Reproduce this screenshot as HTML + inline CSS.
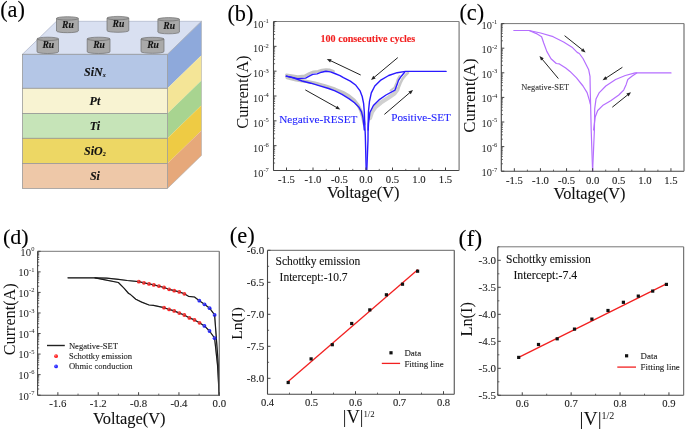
<!DOCTYPE html>
<html><head><meta charset="utf-8"><style>
html,body{margin:0;padding:0;background:#fff;}
svg{display:block;font-family:"Liberation Serif", serif;will-change:transform;}
</style></head><body>
<svg width="685" height="430" viewBox="0 0 685 430">
<rect width="685" height="430" fill="#fff"/>
<polygon points="22.40,54.30 56.40,21.30 201.50,21.30 167.50,54.30" fill="#D9E0F1" stroke="#A0A8C0" stroke-width="0.6" />
<polygon points="167.50,54.30 201.50,21.30 201.50,55.30 167.50,88.30" fill="#8EA9DB" stroke="none" stroke-width="1" />
<polygon points="167.50,88.30 201.50,55.30 201.50,80.50 167.50,113.50" fill="#F4E597" stroke="none" stroke-width="1" />
<polygon points="167.50,113.50 201.50,80.50 201.50,105.30 167.50,138.30" fill="#A8D490" stroke="none" stroke-width="1" />
<polygon points="167.50,138.30 201.50,105.30 201.50,130.40 167.50,163.40" fill="#EECB44" stroke="none" stroke-width="1" />
<polygon points="167.50,163.40 201.50,130.40 201.50,155.40 167.50,188.40" fill="#E6A87A" stroke="none" stroke-width="1" />
<rect x="22.4" y="54.3" width="145.1" height="34.0" fill="#B4C6E6" stroke="#959595" stroke-width="0.75"/>
<text x="94.95" y="75.50" font-size="12" text-anchor="middle" fill="#111" font-weight="bold" font-style="italic" stroke="#111" stroke-width="0.1" >SiN<tspan font-size="6" dy="1">x</tspan></text>
<rect x="22.4" y="88.3" width="145.1" height="25.200000000000003" fill="#F8F3D2" stroke="#959595" stroke-width="0.75"/>
<text x="94.95" y="105.10" font-size="12" text-anchor="middle" fill="#111" font-weight="bold" font-style="italic" stroke="#111" stroke-width="0.1" >Pt</text>
<rect x="22.4" y="113.5" width="145.1" height="24.80000000000001" fill="#C6E4B8" stroke="#959595" stroke-width="0.75"/>
<text x="94.95" y="130.10" font-size="12" text-anchor="middle" fill="#111" font-weight="bold" font-style="italic" stroke="#111" stroke-width="0.1" >Ti</text>
<rect x="22.4" y="138.3" width="145.1" height="25.099999999999994" fill="#EDD764" stroke="#959595" stroke-width="0.75"/>
<text x="94.95" y="155.05" font-size="12" text-anchor="middle" fill="#111" font-weight="bold" font-style="italic" stroke="#111" stroke-width="0.1" >SiO<tspan font-size="6" dy="1">2</tspan></text>
<rect x="22.4" y="163.4" width="145.1" height="25.0" fill="#EEC8A8" stroke="#959595" stroke-width="0.75"/>
<text x="94.95" y="180.10" font-size="12" text-anchor="middle" fill="#111" font-weight="bold" font-style="italic" stroke="#111" stroke-width="0.1" >Si</text>
<polyline points="167.50,54.30 201.50,21.30 201.50,155.40 167.50,188.40" fill="none" stroke="#B0B0B0" stroke-width="0.6" stroke-linejoin="round" stroke-linecap="round" />
<path d="M56.50,18.40 L56.50,31.00 A10.90,1.7 0 0 0 78.30,31.00 L78.30,18.40 Z" fill="#A9A9A9" stroke="#6F6F6F" stroke-width="0.7"/>
<ellipse cx="67.40" cy="18.40" rx="10.90" ry="1.7" fill="#A3A3A3" stroke="#6F6F6F" stroke-width="0.7"/>
<text x="67.90" y="27.60" font-size="9.6" text-anchor="middle" fill="#111" font-weight="bold" font-style="italic" stroke="#111" stroke-width="0.1" >Ru</text>
<path d="M107.00,18.10 L107.00,30.60 A10.90,1.7 0 0 0 128.80,30.60 L128.80,18.10 Z" fill="#A9A9A9" stroke="#6F6F6F" stroke-width="0.7"/>
<ellipse cx="117.90" cy="18.10" rx="10.90" ry="1.7" fill="#A3A3A3" stroke="#6F6F6F" stroke-width="0.7"/>
<text x="118.40" y="27.20" font-size="9.6" text-anchor="middle" fill="#111" font-weight="bold" font-style="italic" stroke="#111" stroke-width="0.1" >Ru</text>
<path d="M157.90,19.30 L157.90,32.10 A10.75,1.7 0 0 0 179.40,32.10 L179.40,19.30 Z" fill="#A9A9A9" stroke="#6F6F6F" stroke-width="0.7"/>
<ellipse cx="168.65" cy="19.30" rx="10.75" ry="1.7" fill="#A3A3A3" stroke="#6F6F6F" stroke-width="0.7"/>
<text x="169.15" y="28.70" font-size="9.6" text-anchor="middle" fill="#111" font-weight="bold" font-style="italic" stroke="#111" stroke-width="0.1" >Ru</text>
<path d="M37.00,38.90 L37.00,51.80 A10.75,1.7 0 0 0 58.50,51.80 L58.50,38.90 Z" fill="#A9A9A9" stroke="#6F6F6F" stroke-width="0.7"/>
<ellipse cx="47.75" cy="38.90" rx="10.75" ry="1.7" fill="#A3A3A3" stroke="#6F6F6F" stroke-width="0.7"/>
<text x="48.25" y="48.40" font-size="9.6" text-anchor="middle" fill="#111" font-weight="bold" font-style="italic" stroke="#111" stroke-width="0.1" >Ru</text>
<path d="M87.20,38.90 L87.20,51.80 A11.40,1.7 0 0 0 110.00,51.80 L110.00,38.90 Z" fill="#A9A9A9" stroke="#6F6F6F" stroke-width="0.7"/>
<ellipse cx="98.60" cy="38.90" rx="11.40" ry="1.7" fill="#A3A3A3" stroke="#6F6F6F" stroke-width="0.7"/>
<text x="99.10" y="48.40" font-size="9.6" text-anchor="middle" fill="#111" font-weight="bold" font-style="italic" stroke="#111" stroke-width="0.1" >Ru</text>
<path d="M141.00,39.00 L141.00,51.60 A11.50,1.7 0 0 0 164.00,51.60 L164.00,39.00 Z" fill="#A9A9A9" stroke="#6F6F6F" stroke-width="0.7"/>
<ellipse cx="152.50" cy="39.00" rx="11.50" ry="1.7" fill="#A3A3A3" stroke="#6F6F6F" stroke-width="0.7"/>
<text x="153.00" y="48.20" font-size="9.6" text-anchor="middle" fill="#111" font-weight="bold" font-style="italic" stroke="#111" stroke-width="0.1" >Ru</text>
<text x="0.20" y="16.70" font-size="22.3" text-anchor="start" fill="#000" font-weight="normal" font-style="normal" stroke="#000" stroke-width="0.1" >(a)</text>
<text x="227.40" y="20.70" font-size="22.3" text-anchor="start" fill="#000" font-weight="normal" font-style="normal" stroke="#000" stroke-width="0.1" >(b)</text>
<text x="459.40" y="20.00" font-size="22.3" text-anchor="start" fill="#000" font-weight="normal" font-style="normal" stroke="#000" stroke-width="0.1" >(c)</text>
<text x="3.00" y="243.50" font-size="22.0" text-anchor="start" fill="#000" font-weight="normal" font-style="normal" stroke="#000" stroke-width="0.1" >(d)</text>
<text x="229.80" y="242.70" font-size="22.5" text-anchor="start" fill="#000" font-weight="normal" font-style="normal" stroke="#000" stroke-width="0.1" >(e)</text>
<text x="458.50" y="245.90" font-size="23.8" text-anchor="start" fill="#000" font-weight="normal" font-style="normal" stroke="#000" stroke-width="0.1" >(f)</text>
<polyline points="286.50,74.80 291.50,75.60 297.70,76.60 304.60,76.00 309.20,73.60 313.50,71.80 318.00,71.40 322.00,70.20 326.00,69.60 330.00,70.00 333.50,71.20" fill="none" stroke="#C4C4C4" stroke-width="2.8" stroke-linejoin="round" stroke-linecap="round" />
<polyline points="287.00,77.50 296.00,79.80 305.00,81.20 315.00,83.20 325.00,85.80 335.00,89.20 343.00,92.50 349.00,96.00 354.00,100.00 358.00,105.00 361.00,111.00 363.00,118.00 364.20,124.00" fill="none" stroke="#C4C4C4" stroke-width="3.4" stroke-linejoin="round" stroke-linecap="round" />
<polyline points="370.00,118.00 372.00,112.00 375.50,107.00 381.00,102.50 388.00,98.00 394.50,93.50 397.50,89.50" fill="none" stroke="#D0D0D0" stroke-width="4.2" stroke-linejoin="round" stroke-linecap="round" />
<polyline points="390.50,90.50 394.50,87.50 396.20,83.50 397.60,79.50 399.50,76.00" fill="none" stroke="#C8C8C8" stroke-width="2.0" stroke-linejoin="round" stroke-linecap="round" />
<polyline points="398.50,88.00 400.50,83.00 402.50,79.00 405.50,75.20 408.00,72.80" fill="none" stroke="#C8C8C8" stroke-width="2.6" stroke-linejoin="round" stroke-linecap="round" />
<polyline points="286.20,76.10 291.50,77.20 297.70,78.60 305.60,78.10 309.20,76.10 312.70,74.40 317.10,73.90 321.50,72.20 325.90,71.30 330.40,71.90 334.80,73.50 340.00,75.70 343.40,77.70 350.30,81.10 355.90,85.30 360.10,90.90 362.20,96.50 363.60,103.40 364.30,111.80 364.60,120.20 365.30,135.00 366.20,170.30" fill="none" stroke="#2A1AFF" stroke-width="1.4" stroke-linejoin="round" stroke-linecap="round" />
<polyline points="286.20,76.10 293.30,77.90 302.10,81.00 310.90,83.20 319.80,85.90 328.60,88.50 335.00,90.90 342.00,94.40 348.90,98.60 354.50,102.80 358.70,106.90 361.50,111.80 362.90,117.40 363.60,123.00 364.30,130.00" fill="none" stroke="#2A1AFF" stroke-width="1.4" stroke-linejoin="round" stroke-linecap="round" />
<polyline points="366.80,170.30 368.00,140.00 368.10,125.00 368.50,111.10 369.50,101.30 371.30,92.90 374.80,86.00 380.40,80.40 388.70,75.50 397.10,72.70 405.50,71.40 446.10,71.40" fill="none" stroke="#2A1AFF" stroke-width="1.4" stroke-linejoin="round" stroke-linecap="round" />
<polyline points="368.20,130.00 368.50,123.70 369.90,112.50 373.40,105.50 379.00,99.90 386.00,95.00 395.00,90.10 397.10,84.60 398.50,80.40 401.30,76.20 404.80,72.00" fill="none" stroke="#2A1AFF" stroke-width="1.4" stroke-linejoin="round" stroke-linecap="round" />
<line x1="273.50" y1="170.50" x2="459.10" y2="170.50" stroke="#444" stroke-width="1.1" />
<line x1="273.50" y1="21.50" x2="273.50" y2="170.50" stroke="#444" stroke-width="1.1" />
<line x1="273.50" y1="21.50" x2="459.10" y2="21.50" stroke="#808080" stroke-width="1.0" />
<line x1="459.10" y1="21.50" x2="459.10" y2="170.50" stroke="#808080" stroke-width="1.25" />
<line x1="273.50" y1="170.50" x2="276.50" y2="170.50" stroke="#444" stroke-width="1" />
<text x="268.80" y="176.50" font-size="10.4" text-anchor="end" fill="#222">10<tspan font-size="6.5" dy="-4.6">-7</tspan></text>
<line x1="273.50" y1="163.02" x2="275.10" y2="163.02" stroke="#444" stroke-width="0.8" />
<line x1="273.50" y1="158.65" x2="275.10" y2="158.65" stroke="#444" stroke-width="0.8" />
<line x1="273.50" y1="155.55" x2="275.10" y2="155.55" stroke="#444" stroke-width="0.8" />
<line x1="273.50" y1="153.14" x2="275.10" y2="153.14" stroke="#444" stroke-width="0.8" />
<line x1="273.50" y1="151.18" x2="275.10" y2="151.18" stroke="#444" stroke-width="0.8" />
<line x1="273.50" y1="149.51" x2="275.10" y2="149.51" stroke="#444" stroke-width="0.8" />
<line x1="273.50" y1="148.07" x2="275.10" y2="148.07" stroke="#444" stroke-width="0.8" />
<line x1="273.50" y1="146.80" x2="275.10" y2="146.80" stroke="#444" stroke-width="0.8" />
<line x1="273.50" y1="145.67" x2="276.50" y2="145.67" stroke="#444" stroke-width="1" />
<text x="268.80" y="151.67" font-size="10.4" text-anchor="end" fill="#222">10<tspan font-size="6.5" dy="-4.6">-6</tspan></text>
<line x1="273.50" y1="138.19" x2="275.10" y2="138.19" stroke="#444" stroke-width="0.8" />
<line x1="273.50" y1="133.82" x2="275.10" y2="133.82" stroke="#444" stroke-width="0.8" />
<line x1="273.50" y1="130.72" x2="275.10" y2="130.72" stroke="#444" stroke-width="0.8" />
<line x1="273.50" y1="128.31" x2="275.10" y2="128.31" stroke="#444" stroke-width="0.8" />
<line x1="273.50" y1="126.34" x2="275.10" y2="126.34" stroke="#444" stroke-width="0.8" />
<line x1="273.50" y1="124.68" x2="275.10" y2="124.68" stroke="#444" stroke-width="0.8" />
<line x1="273.50" y1="123.24" x2="275.10" y2="123.24" stroke="#444" stroke-width="0.8" />
<line x1="273.50" y1="121.97" x2="275.10" y2="121.97" stroke="#444" stroke-width="0.8" />
<line x1="273.50" y1="120.83" x2="276.50" y2="120.83" stroke="#444" stroke-width="1" />
<text x="268.80" y="126.83" font-size="10.4" text-anchor="end" fill="#222">10<tspan font-size="6.5" dy="-4.6">-5</tspan></text>
<line x1="273.50" y1="113.36" x2="275.10" y2="113.36" stroke="#444" stroke-width="0.8" />
<line x1="273.50" y1="108.98" x2="275.10" y2="108.98" stroke="#444" stroke-width="0.8" />
<line x1="273.50" y1="105.88" x2="275.10" y2="105.88" stroke="#444" stroke-width="0.8" />
<line x1="273.50" y1="103.48" x2="275.10" y2="103.48" stroke="#444" stroke-width="0.8" />
<line x1="273.50" y1="101.51" x2="275.10" y2="101.51" stroke="#444" stroke-width="0.8" />
<line x1="273.50" y1="99.85" x2="275.10" y2="99.85" stroke="#444" stroke-width="0.8" />
<line x1="273.50" y1="98.41" x2="275.10" y2="98.41" stroke="#444" stroke-width="0.8" />
<line x1="273.50" y1="97.14" x2="275.10" y2="97.14" stroke="#444" stroke-width="0.8" />
<line x1="273.50" y1="96.00" x2="276.50" y2="96.00" stroke="#444" stroke-width="1" />
<text x="268.80" y="102.00" font-size="10.4" text-anchor="end" fill="#222">10<tspan font-size="6.5" dy="-4.6">-4</tspan></text>
<line x1="273.50" y1="88.52" x2="275.10" y2="88.52" stroke="#444" stroke-width="0.8" />
<line x1="273.50" y1="84.15" x2="275.10" y2="84.15" stroke="#444" stroke-width="0.8" />
<line x1="273.50" y1="81.05" x2="275.10" y2="81.05" stroke="#444" stroke-width="0.8" />
<line x1="273.50" y1="78.64" x2="275.10" y2="78.64" stroke="#444" stroke-width="0.8" />
<line x1="273.50" y1="76.68" x2="275.10" y2="76.68" stroke="#444" stroke-width="0.8" />
<line x1="273.50" y1="75.01" x2="275.10" y2="75.01" stroke="#444" stroke-width="0.8" />
<line x1="273.50" y1="73.57" x2="275.10" y2="73.57" stroke="#444" stroke-width="0.8" />
<line x1="273.50" y1="72.30" x2="275.10" y2="72.30" stroke="#444" stroke-width="0.8" />
<line x1="273.50" y1="71.17" x2="276.50" y2="71.17" stroke="#444" stroke-width="1" />
<text x="268.80" y="77.17" font-size="10.4" text-anchor="end" fill="#222">10<tspan font-size="6.5" dy="-4.6">-3</tspan></text>
<line x1="273.50" y1="63.69" x2="275.10" y2="63.69" stroke="#444" stroke-width="0.8" />
<line x1="273.50" y1="59.32" x2="275.10" y2="59.32" stroke="#444" stroke-width="0.8" />
<line x1="273.50" y1="56.22" x2="275.10" y2="56.22" stroke="#444" stroke-width="0.8" />
<line x1="273.50" y1="53.81" x2="275.10" y2="53.81" stroke="#444" stroke-width="0.8" />
<line x1="273.50" y1="51.84" x2="275.10" y2="51.84" stroke="#444" stroke-width="0.8" />
<line x1="273.50" y1="50.18" x2="275.10" y2="50.18" stroke="#444" stroke-width="0.8" />
<line x1="273.50" y1="48.74" x2="275.10" y2="48.74" stroke="#444" stroke-width="0.8" />
<line x1="273.50" y1="47.47" x2="275.10" y2="47.47" stroke="#444" stroke-width="0.8" />
<line x1="273.50" y1="46.33" x2="276.50" y2="46.33" stroke="#444" stroke-width="1" />
<text x="268.80" y="52.33" font-size="10.4" text-anchor="end" fill="#222">10<tspan font-size="6.5" dy="-4.6">-2</tspan></text>
<line x1="273.50" y1="38.86" x2="275.10" y2="38.86" stroke="#444" stroke-width="0.8" />
<line x1="273.50" y1="34.48" x2="275.10" y2="34.48" stroke="#444" stroke-width="0.8" />
<line x1="273.50" y1="31.38" x2="275.10" y2="31.38" stroke="#444" stroke-width="0.8" />
<line x1="273.50" y1="28.98" x2="275.10" y2="28.98" stroke="#444" stroke-width="0.8" />
<line x1="273.50" y1="27.01" x2="275.10" y2="27.01" stroke="#444" stroke-width="0.8" />
<line x1="273.50" y1="25.35" x2="275.10" y2="25.35" stroke="#444" stroke-width="0.8" />
<line x1="273.50" y1="23.91" x2="275.10" y2="23.91" stroke="#444" stroke-width="0.8" />
<line x1="273.50" y1="22.64" x2="275.10" y2="22.64" stroke="#444" stroke-width="0.8" />
<line x1="273.50" y1="21.50" x2="276.50" y2="21.50" stroke="#444" stroke-width="1" />
<text x="268.80" y="27.50" font-size="10.4" text-anchor="end" fill="#222">10<tspan font-size="6.5" dy="-4.6">-1</tspan></text>
<line x1="286.50" y1="170.50" x2="286.50" y2="167.50" stroke="#444" stroke-width="1" />
<text x="286.50" y="182.80" font-size="10.7" text-anchor="middle" fill="#222" font-weight="normal" font-style="normal" stroke="#222" stroke-width="0.1" >-1.5</text>
<line x1="313.00" y1="170.50" x2="313.00" y2="167.50" stroke="#444" stroke-width="1" />
<text x="313.00" y="182.80" font-size="10.7" text-anchor="middle" fill="#222" font-weight="normal" font-style="normal" stroke="#222" stroke-width="0.1" >-1.0</text>
<line x1="339.50" y1="170.50" x2="339.50" y2="167.50" stroke="#444" stroke-width="1" />
<text x="339.50" y="182.80" font-size="10.7" text-anchor="middle" fill="#222" font-weight="normal" font-style="normal" stroke="#222" stroke-width="0.1" >-0.5</text>
<line x1="366.00" y1="170.50" x2="366.00" y2="167.50" stroke="#444" stroke-width="1" />
<text x="366.00" y="182.80" font-size="10.7" text-anchor="middle" fill="#222" font-weight="normal" font-style="normal" stroke="#222" stroke-width="0.1" >0.0</text>
<line x1="392.50" y1="170.50" x2="392.50" y2="167.50" stroke="#444" stroke-width="1" />
<text x="392.50" y="182.80" font-size="10.7" text-anchor="middle" fill="#222" font-weight="normal" font-style="normal" stroke="#222" stroke-width="0.1" >0.5</text>
<line x1="419.00" y1="170.50" x2="419.00" y2="167.50" stroke="#444" stroke-width="1" />
<text x="419.00" y="182.80" font-size="10.7" text-anchor="middle" fill="#222" font-weight="normal" font-style="normal" stroke="#222" stroke-width="0.1" >1.0</text>
<line x1="445.50" y1="170.50" x2="445.50" y2="167.50" stroke="#444" stroke-width="1" />
<text x="445.50" y="182.80" font-size="10.7" text-anchor="middle" fill="#222" font-weight="normal" font-style="normal" stroke="#222" stroke-width="0.1" >1.5</text>
<line x1="299.75" y1="170.50" x2="299.75" y2="168.90" stroke="#444" stroke-width="0.8" />
<line x1="326.25" y1="170.50" x2="326.25" y2="168.90" stroke="#444" stroke-width="0.8" />
<line x1="352.75" y1="170.50" x2="352.75" y2="168.90" stroke="#444" stroke-width="0.8" />
<line x1="379.25" y1="170.50" x2="379.25" y2="168.90" stroke="#444" stroke-width="0.8" />
<line x1="405.75" y1="170.50" x2="405.75" y2="168.90" stroke="#444" stroke-width="0.8" />
<line x1="432.25" y1="170.50" x2="432.25" y2="168.90" stroke="#444" stroke-width="0.8" />
<text x="363.30" y="198.30" font-size="16.4" text-anchor="middle" fill="#111" font-weight="normal" font-style="normal" stroke="#111" stroke-width="0.1" >Voltage(V)</text>
<text transform="translate(248.4,92.1) rotate(-90)" font-size="16.5" text-anchor="middle" fill="#111">Current(A)</text>
<text x="367.90" y="41.80" font-size="10.1" text-anchor="middle" fill="#F21F1F" font-weight="bold" font-style="normal" stroke="#F21F1F" stroke-width="0.1" >100 consecutive cycles</text>
<text x="318.30" y="122.70" font-size="11.2" text-anchor="middle" fill="#2424FF" font-weight="normal" font-style="normal" stroke="#2424FF" stroke-width="0.1" >Negative-RESET</text>
<text x="421.10" y="120.80" font-size="11.2" text-anchor="middle" fill="#2424FF" font-weight="normal" font-style="normal" stroke="#2424FF" stroke-width="0.1" >Positive-SET</text>
<line x1="360.70" y1="75.00" x2="330.41" y2="60.62" stroke="#222" stroke-width="1.0" />
<polygon points="326.80,58.90 331.64,59.20 330.09,62.46" fill="#222" stroke="none" stroke-width="1" />
<line x1="305.30" y1="89.90" x2="336.81" y2="107.55" stroke="#222" stroke-width="1.0" />
<polygon points="340.30,109.50 335.49,108.87 337.25,105.73" fill="#222" stroke="none" stroke-width="1" />
<line x1="397.80" y1="57.60" x2="374.07" y2="77.43" stroke="#222" stroke-width="1.0" />
<polygon points="371.00,80.00 373.30,75.73 375.61,78.50" fill="#222" stroke="none" stroke-width="1" />
<line x1="384.40" y1="114.40" x2="409.96" y2="92.50" stroke="#222" stroke-width="1.0" />
<polygon points="413.00,89.90 410.75,94.19 408.41,91.46" fill="#222" stroke="none" stroke-width="1" />
<polyline points="513.80,30.50 529.10,30.50 540.60,33.00 553.10,36.70 563.60,42.00 572.00,47.20 577.20,52.40 579.30,53.50 583.00,58.50 586.30,64.90 588.70,69.80 590.00,76.30 590.30,92.60 590.70,108.80 591.20,130.00 592.60,171.00" fill="none" stroke="#B56EFF" stroke-width="1.2" stroke-linejoin="round" stroke-linecap="round" />
<polyline points="529.10,30.50 536.40,33.60 541.60,36.70 543.70,43.00 546.80,51.40 551.00,58.70 556.30,63.50 559.40,63.90 565.70,68.10 570.00,71.40 576.50,77.90 583.00,86.00 587.10,92.60 589.50,100.70 590.30,104.00" fill="none" stroke="#B56EFF" stroke-width="1.2" stroke-linejoin="round" stroke-linecap="round" />
<polyline points="592.60,171.00 594.40,130.00 594.70,108.80 596.00,99.10 599.30,92.60 605.80,86.00 615.60,79.50 625.30,75.50 635.10,72.90 671.00,72.90" fill="none" stroke="#B56EFF" stroke-width="1.2" stroke-linejoin="round" stroke-linecap="round" />
<polyline points="593.60,130.00 595.20,117.00 597.70,110.50 602.60,105.60 610.70,100.70 618.80,95.00 623.70,90.10 626.20,84.40 627.80,79.50 631.90,76.30 636.70,73.00" fill="none" stroke="#B56EFF" stroke-width="1.2" stroke-linejoin="round" stroke-linecap="round" />
<line x1="501.30" y1="171.20" x2="684.00" y2="171.20" stroke="#444" stroke-width="1.1" />
<line x1="501.30" y1="23.60" x2="501.30" y2="171.20" stroke="#444" stroke-width="1.1" />
<line x1="501.30" y1="23.60" x2="684.00" y2="23.60" stroke="#777" stroke-width="1.0" />
<line x1="684.00" y1="23.60" x2="684.00" y2="171.20" stroke="#777" stroke-width="1.25" />
<line x1="501.30" y1="171.20" x2="504.30" y2="171.20" stroke="#444" stroke-width="1" />
<text x="497.30" y="176.20" font-size="10.4" text-anchor="end" fill="#222">10<tspan font-size="6.5" dy="-4.6">-7</tspan></text>
<line x1="501.30" y1="163.79" x2="502.90" y2="163.79" stroke="#444" stroke-width="0.8" />
<line x1="501.30" y1="159.46" x2="502.90" y2="159.46" stroke="#444" stroke-width="0.8" />
<line x1="501.30" y1="156.39" x2="502.90" y2="156.39" stroke="#444" stroke-width="0.8" />
<line x1="501.30" y1="154.01" x2="502.90" y2="154.01" stroke="#444" stroke-width="0.8" />
<line x1="501.30" y1="152.06" x2="502.90" y2="152.06" stroke="#444" stroke-width="0.8" />
<line x1="501.30" y1="150.41" x2="502.90" y2="150.41" stroke="#444" stroke-width="0.8" />
<line x1="501.30" y1="148.98" x2="502.90" y2="148.98" stroke="#444" stroke-width="0.8" />
<line x1="501.30" y1="147.73" x2="502.90" y2="147.73" stroke="#444" stroke-width="0.8" />
<line x1="501.30" y1="146.60" x2="504.30" y2="146.60" stroke="#444" stroke-width="1" />
<text x="497.30" y="151.60" font-size="10.4" text-anchor="end" fill="#222">10<tspan font-size="6.5" dy="-4.6">-6</tspan></text>
<line x1="501.30" y1="139.19" x2="502.90" y2="139.19" stroke="#444" stroke-width="0.8" />
<line x1="501.30" y1="134.86" x2="502.90" y2="134.86" stroke="#444" stroke-width="0.8" />
<line x1="501.30" y1="131.79" x2="502.90" y2="131.79" stroke="#444" stroke-width="0.8" />
<line x1="501.30" y1="129.41" x2="502.90" y2="129.41" stroke="#444" stroke-width="0.8" />
<line x1="501.30" y1="127.46" x2="502.90" y2="127.46" stroke="#444" stroke-width="0.8" />
<line x1="501.30" y1="125.81" x2="502.90" y2="125.81" stroke="#444" stroke-width="0.8" />
<line x1="501.30" y1="124.38" x2="502.90" y2="124.38" stroke="#444" stroke-width="0.8" />
<line x1="501.30" y1="123.13" x2="502.90" y2="123.13" stroke="#444" stroke-width="0.8" />
<line x1="501.30" y1="122.00" x2="504.30" y2="122.00" stroke="#444" stroke-width="1" />
<text x="497.30" y="127.00" font-size="10.4" text-anchor="end" fill="#222">10<tspan font-size="6.5" dy="-4.6">-5</tspan></text>
<line x1="501.30" y1="114.59" x2="502.90" y2="114.59" stroke="#444" stroke-width="0.8" />
<line x1="501.30" y1="110.26" x2="502.90" y2="110.26" stroke="#444" stroke-width="0.8" />
<line x1="501.30" y1="107.19" x2="502.90" y2="107.19" stroke="#444" stroke-width="0.8" />
<line x1="501.30" y1="104.81" x2="502.90" y2="104.81" stroke="#444" stroke-width="0.8" />
<line x1="501.30" y1="102.86" x2="502.90" y2="102.86" stroke="#444" stroke-width="0.8" />
<line x1="501.30" y1="101.21" x2="502.90" y2="101.21" stroke="#444" stroke-width="0.8" />
<line x1="501.30" y1="99.78" x2="502.90" y2="99.78" stroke="#444" stroke-width="0.8" />
<line x1="501.30" y1="98.53" x2="502.90" y2="98.53" stroke="#444" stroke-width="0.8" />
<line x1="501.30" y1="97.40" x2="504.30" y2="97.40" stroke="#444" stroke-width="1" />
<text x="497.30" y="102.40" font-size="10.4" text-anchor="end" fill="#222">10<tspan font-size="6.5" dy="-4.6">-4</tspan></text>
<line x1="501.30" y1="89.99" x2="502.90" y2="89.99" stroke="#444" stroke-width="0.8" />
<line x1="501.30" y1="85.66" x2="502.90" y2="85.66" stroke="#444" stroke-width="0.8" />
<line x1="501.30" y1="82.59" x2="502.90" y2="82.59" stroke="#444" stroke-width="0.8" />
<line x1="501.30" y1="80.21" x2="502.90" y2="80.21" stroke="#444" stroke-width="0.8" />
<line x1="501.30" y1="78.26" x2="502.90" y2="78.26" stroke="#444" stroke-width="0.8" />
<line x1="501.30" y1="76.61" x2="502.90" y2="76.61" stroke="#444" stroke-width="0.8" />
<line x1="501.30" y1="75.18" x2="502.90" y2="75.18" stroke="#444" stroke-width="0.8" />
<line x1="501.30" y1="73.93" x2="502.90" y2="73.93" stroke="#444" stroke-width="0.8" />
<line x1="501.30" y1="72.80" x2="504.30" y2="72.80" stroke="#444" stroke-width="1" />
<text x="497.30" y="77.80" font-size="10.4" text-anchor="end" fill="#222">10<tspan font-size="6.5" dy="-4.6">-3</tspan></text>
<line x1="501.30" y1="65.39" x2="502.90" y2="65.39" stroke="#444" stroke-width="0.8" />
<line x1="501.30" y1="61.06" x2="502.90" y2="61.06" stroke="#444" stroke-width="0.8" />
<line x1="501.30" y1="57.99" x2="502.90" y2="57.99" stroke="#444" stroke-width="0.8" />
<line x1="501.30" y1="55.61" x2="502.90" y2="55.61" stroke="#444" stroke-width="0.8" />
<line x1="501.30" y1="53.66" x2="502.90" y2="53.66" stroke="#444" stroke-width="0.8" />
<line x1="501.30" y1="52.01" x2="502.90" y2="52.01" stroke="#444" stroke-width="0.8" />
<line x1="501.30" y1="50.58" x2="502.90" y2="50.58" stroke="#444" stroke-width="0.8" />
<line x1="501.30" y1="49.33" x2="502.90" y2="49.33" stroke="#444" stroke-width="0.8" />
<line x1="501.30" y1="48.20" x2="504.30" y2="48.20" stroke="#444" stroke-width="1" />
<text x="497.30" y="53.20" font-size="10.4" text-anchor="end" fill="#222">10<tspan font-size="6.5" dy="-4.6">-2</tspan></text>
<line x1="501.30" y1="40.79" x2="502.90" y2="40.79" stroke="#444" stroke-width="0.8" />
<line x1="501.30" y1="36.46" x2="502.90" y2="36.46" stroke="#444" stroke-width="0.8" />
<line x1="501.30" y1="33.39" x2="502.90" y2="33.39" stroke="#444" stroke-width="0.8" />
<line x1="501.30" y1="31.01" x2="502.90" y2="31.01" stroke="#444" stroke-width="0.8" />
<line x1="501.30" y1="29.06" x2="502.90" y2="29.06" stroke="#444" stroke-width="0.8" />
<line x1="501.30" y1="27.41" x2="502.90" y2="27.41" stroke="#444" stroke-width="0.8" />
<line x1="501.30" y1="25.98" x2="502.90" y2="25.98" stroke="#444" stroke-width="0.8" />
<line x1="501.30" y1="24.73" x2="502.90" y2="24.73" stroke="#444" stroke-width="0.8" />
<line x1="501.30" y1="23.60" x2="504.30" y2="23.60" stroke="#444" stroke-width="1" />
<text x="497.30" y="28.60" font-size="10.4" text-anchor="end" fill="#222">10<tspan font-size="6.5" dy="-4.6">-1</tspan></text>
<line x1="514.35" y1="171.20" x2="514.35" y2="168.20" stroke="#444" stroke-width="1" />
<text x="514.35" y="183.50" font-size="10.7" text-anchor="middle" fill="#222" font-weight="normal" font-style="normal" stroke="#222" stroke-width="0.1" >-1.5</text>
<line x1="540.45" y1="171.20" x2="540.45" y2="168.20" stroke="#444" stroke-width="1" />
<text x="540.45" y="183.50" font-size="10.7" text-anchor="middle" fill="#222" font-weight="normal" font-style="normal" stroke="#222" stroke-width="0.1" >-1.0</text>
<line x1="566.55" y1="171.20" x2="566.55" y2="168.20" stroke="#444" stroke-width="1" />
<text x="566.55" y="183.50" font-size="10.7" text-anchor="middle" fill="#222" font-weight="normal" font-style="normal" stroke="#222" stroke-width="0.1" >-0.5</text>
<line x1="592.65" y1="171.20" x2="592.65" y2="168.20" stroke="#444" stroke-width="1" />
<text x="592.65" y="183.50" font-size="10.7" text-anchor="middle" fill="#222" font-weight="normal" font-style="normal" stroke="#222" stroke-width="0.1" >0.0</text>
<line x1="618.75" y1="171.20" x2="618.75" y2="168.20" stroke="#444" stroke-width="1" />
<text x="618.75" y="183.50" font-size="10.7" text-anchor="middle" fill="#222" font-weight="normal" font-style="normal" stroke="#222" stroke-width="0.1" >0.5</text>
<line x1="644.85" y1="171.20" x2="644.85" y2="168.20" stroke="#444" stroke-width="1" />
<text x="644.85" y="183.50" font-size="10.7" text-anchor="middle" fill="#222" font-weight="normal" font-style="normal" stroke="#222" stroke-width="0.1" >1.0</text>
<line x1="670.95" y1="171.20" x2="670.95" y2="168.20" stroke="#444" stroke-width="1" />
<text x="670.95" y="183.50" font-size="10.7" text-anchor="middle" fill="#222" font-weight="normal" font-style="normal" stroke="#222" stroke-width="0.1" >1.5</text>
<line x1="527.40" y1="171.20" x2="527.40" y2="169.60" stroke="#444" stroke-width="0.8" />
<line x1="553.50" y1="171.20" x2="553.50" y2="169.60" stroke="#444" stroke-width="0.8" />
<line x1="579.60" y1="171.20" x2="579.60" y2="169.60" stroke="#444" stroke-width="0.8" />
<line x1="605.70" y1="171.20" x2="605.70" y2="169.60" stroke="#444" stroke-width="0.8" />
<line x1="631.80" y1="171.20" x2="631.80" y2="169.60" stroke="#444" stroke-width="0.8" />
<line x1="657.90" y1="171.20" x2="657.90" y2="169.60" stroke="#444" stroke-width="0.8" />
<text x="589.50" y="198.60" font-size="16.3" text-anchor="middle" fill="#111" font-weight="normal" font-style="normal" stroke="#111" stroke-width="0.1" >Voltage(V)</text>
<text transform="translate(475.3,95.6) rotate(-90)" font-size="16.7" text-anchor="middle" fill="#111">Current(A)</text>
<text x="545.20" y="90.10" font-size="8.4" text-anchor="middle" fill="#333" font-weight="normal" font-style="normal" stroke="#333" stroke-width="0.1" >Negative-SET</text>
<line x1="564.60" y1="35.70" x2="582.47" y2="49.91" stroke="#222" stroke-width="1.0" />
<polygon points="585.60,52.40 580.96,51.01 583.20,48.19" fill="#222" stroke="none" stroke-width="1" />
<line x1="558.40" y1="78.60" x2="542.07" y2="59.07" stroke="#222" stroke-width="1.0" />
<polygon points="539.50,56.00 543.77,58.30 541.01,60.61" fill="#222" stroke="none" stroke-width="1" />
<line x1="622.40" y1="67.30" x2="605.94" y2="78.10" stroke="#222" stroke-width="1.0" />
<polygon points="602.60,80.30 605.37,76.33 607.35,79.33" fill="#222" stroke="none" stroke-width="1" />
<line x1="612.30" y1="107.20" x2="627.88" y2="94.70" stroke="#222" stroke-width="1.0" />
<polygon points="631.00,92.20 628.62,96.42 626.36,93.61" fill="#222" stroke="none" stroke-width="1" />
<polyline points="68.00,277.80 95.00,277.80 106.70,278.10 118.40,279.30 127.20,280.50 138.80,281.70 143.90,282.80 149.00,283.90 153.80,284.90 158.90,286.10 164.00,287.50 169.10,289.30 174.20,290.70 179.30,291.90 184.30,293.80 188.50,296.30 194.50,297.00 199.30,300.70 204.50,304.30 209.60,308.20 214.60,314.90 218.50,366.90 219.20,395.00" fill="none" stroke="#1A1A1A" stroke-width="1.2" stroke-linejoin="round" stroke-linecap="round" />
<polyline points="95.00,277.80 103.80,279.60 118.40,282.50 124.20,288.40 128.60,293.50 130.00,294.10 135.80,299.20 141.70,302.10 149.00,305.00 153.40,305.30 164.00,307.70 169.10,309.40 174.20,310.90 179.30,313.10 184.30,315.00 189.40,317.90 194.50,319.90 199.50,322.80 204.40,325.90 209.50,331.00 214.60,338.20 217.50,365.00 219.20,395.00" fill="none" stroke="#1A1A1A" stroke-width="1.2" stroke-linejoin="round" stroke-linecap="round" />
<circle cx="138.80" cy="281.70" r="1.9" fill="#FF2626"/>
<circle cx="138.40" cy="281.30" r="0.8" fill="#FFB0B0" opacity="0.6"/>
<circle cx="143.90" cy="282.80" r="1.9" fill="#FF2626"/>
<circle cx="143.50" cy="282.40" r="0.8" fill="#FFB0B0" opacity="0.6"/>
<circle cx="149.00" cy="283.90" r="1.9" fill="#FF2626"/>
<circle cx="148.60" cy="283.50" r="0.8" fill="#FFB0B0" opacity="0.6"/>
<circle cx="153.80" cy="284.90" r="1.9" fill="#FF2626"/>
<circle cx="153.40" cy="284.50" r="0.8" fill="#FFB0B0" opacity="0.6"/>
<circle cx="158.90" cy="286.10" r="1.9" fill="#FF2626"/>
<circle cx="158.50" cy="285.70" r="0.8" fill="#FFB0B0" opacity="0.6"/>
<circle cx="164.00" cy="287.50" r="1.9" fill="#FF2626"/>
<circle cx="163.60" cy="287.10" r="0.8" fill="#FFB0B0" opacity="0.6"/>
<circle cx="169.10" cy="289.30" r="1.9" fill="#FF2626"/>
<circle cx="168.70" cy="288.90" r="0.8" fill="#FFB0B0" opacity="0.6"/>
<circle cx="174.20" cy="290.70" r="1.9" fill="#FF2626"/>
<circle cx="173.80" cy="290.30" r="0.8" fill="#FFB0B0" opacity="0.6"/>
<circle cx="179.30" cy="291.90" r="1.9" fill="#FF2626"/>
<circle cx="178.90" cy="291.50" r="0.8" fill="#FFB0B0" opacity="0.6"/>
<circle cx="184.30" cy="293.80" r="1.9" fill="#FF2626"/>
<circle cx="183.90" cy="293.40" r="0.8" fill="#FFB0B0" opacity="0.6"/>
<circle cx="199.30" cy="300.70" r="1.9" fill="#2626FF"/>
<circle cx="198.90" cy="300.30" r="0.8" fill="#B0B0FF" opacity="0.6"/>
<circle cx="204.50" cy="304.30" r="1.9" fill="#2626FF"/>
<circle cx="204.10" cy="303.90" r="0.8" fill="#B0B0FF" opacity="0.6"/>
<circle cx="209.60" cy="308.20" r="1.9" fill="#2626FF"/>
<circle cx="209.20" cy="307.80" r="0.8" fill="#B0B0FF" opacity="0.6"/>
<circle cx="214.60" cy="314.90" r="1.9" fill="#2626FF"/>
<circle cx="214.20" cy="314.50" r="0.8" fill="#B0B0FF" opacity="0.6"/>
<circle cx="164.00" cy="307.70" r="1.9" fill="#FF2626"/>
<circle cx="163.60" cy="307.30" r="0.8" fill="#FFB0B0" opacity="0.6"/>
<circle cx="169.10" cy="309.40" r="1.9" fill="#FF2626"/>
<circle cx="168.70" cy="309.00" r="0.8" fill="#FFB0B0" opacity="0.6"/>
<circle cx="174.20" cy="310.90" r="1.9" fill="#FF2626"/>
<circle cx="173.80" cy="310.50" r="0.8" fill="#FFB0B0" opacity="0.6"/>
<circle cx="179.30" cy="313.10" r="1.9" fill="#FF2626"/>
<circle cx="178.90" cy="312.70" r="0.8" fill="#FFB0B0" opacity="0.6"/>
<circle cx="184.30" cy="315.00" r="1.9" fill="#FF2626"/>
<circle cx="183.90" cy="314.60" r="0.8" fill="#FFB0B0" opacity="0.6"/>
<circle cx="189.40" cy="317.90" r="1.9" fill="#FF2626"/>
<circle cx="189.00" cy="317.50" r="0.8" fill="#FFB0B0" opacity="0.6"/>
<circle cx="194.50" cy="319.90" r="1.9" fill="#FF2626"/>
<circle cx="194.10" cy="319.50" r="0.8" fill="#FFB0B0" opacity="0.6"/>
<circle cx="199.50" cy="322.80" r="1.9" fill="#FF2626"/>
<circle cx="199.10" cy="322.40" r="0.8" fill="#FFB0B0" opacity="0.6"/>
<circle cx="204.40" cy="325.90" r="1.9" fill="#2626FF"/>
<circle cx="204.00" cy="325.50" r="0.8" fill="#B0B0FF" opacity="0.6"/>
<circle cx="209.50" cy="331.00" r="1.9" fill="#2626FF"/>
<circle cx="209.10" cy="330.60" r="0.8" fill="#B0B0FF" opacity="0.6"/>
<circle cx="214.60" cy="338.20" r="1.9" fill="#2626FF"/>
<circle cx="214.20" cy="337.80" r="0.8" fill="#B0B0FF" opacity="0.6"/>
<polyline points="68.00,277.80 95.00,277.80 106.70,278.10 118.40,279.30 127.20,280.50 138.80,281.70 143.90,282.80 149.00,283.90 153.80,284.90 158.90,286.10 164.00,287.50 169.10,289.30 174.20,290.70 179.30,291.90 184.30,293.80 188.50,296.30 194.50,297.00 199.30,300.70 204.50,304.30 209.60,308.20 214.60,314.90 218.50,366.90 219.20,395.00" fill="none" stroke="#1A1A1A" stroke-width="0.7" stroke-linejoin="round" stroke-linecap="round" opacity="0.55"/>
<polyline points="95.00,277.80 103.80,279.60 118.40,282.50 124.20,288.40 128.60,293.50 130.00,294.10 135.80,299.20 141.70,302.10 149.00,305.00 153.40,305.30 164.00,307.70 169.10,309.40 174.20,310.90 179.30,313.10 184.30,315.00 189.40,317.90 194.50,319.90 199.50,322.80 204.40,325.90 209.50,331.00 214.60,338.20 217.50,365.00 219.20,395.00" fill="none" stroke="#1A1A1A" stroke-width="0.7" stroke-linejoin="round" stroke-linecap="round" opacity="0.55"/>
<line x1="37.60" y1="395.20" x2="219.30" y2="395.20" stroke="#444" stroke-width="1.1" />
<line x1="37.60" y1="251.30" x2="37.60" y2="395.20" stroke="#444" stroke-width="1.1" />
<line x1="37.60" y1="251.30" x2="219.30" y2="251.30" stroke="#777" stroke-width="1.0" />
<line x1="219.30" y1="251.30" x2="219.30" y2="395.20" stroke="#777" stroke-width="1.25" />
<line x1="37.60" y1="395.20" x2="40.60" y2="395.20" stroke="#444" stroke-width="1" />
<text x="34.40" y="399.60" font-size="10.8" text-anchor="end" fill="#222">10<tspan font-size="6.5" dy="-4.6">-7</tspan></text>
<line x1="37.60" y1="389.01" x2="39.20" y2="389.01" stroke="#444" stroke-width="0.8" />
<line x1="37.60" y1="385.39" x2="39.20" y2="385.39" stroke="#444" stroke-width="0.8" />
<line x1="37.60" y1="382.82" x2="39.20" y2="382.82" stroke="#444" stroke-width="0.8" />
<line x1="37.60" y1="380.83" x2="39.20" y2="380.83" stroke="#444" stroke-width="0.8" />
<line x1="37.60" y1="379.20" x2="39.20" y2="379.20" stroke="#444" stroke-width="0.8" />
<line x1="37.60" y1="377.83" x2="39.20" y2="377.83" stroke="#444" stroke-width="0.8" />
<line x1="37.60" y1="376.64" x2="39.20" y2="376.64" stroke="#444" stroke-width="0.8" />
<line x1="37.60" y1="375.58" x2="39.20" y2="375.58" stroke="#444" stroke-width="0.8" />
<line x1="37.60" y1="374.64" x2="40.60" y2="374.64" stroke="#444" stroke-width="1" />
<text x="34.40" y="379.04" font-size="10.8" text-anchor="end" fill="#222">10<tspan font-size="6.5" dy="-4.6">-6</tspan></text>
<line x1="37.60" y1="368.45" x2="39.20" y2="368.45" stroke="#444" stroke-width="0.8" />
<line x1="37.60" y1="364.83" x2="39.20" y2="364.83" stroke="#444" stroke-width="0.8" />
<line x1="37.60" y1="362.27" x2="39.20" y2="362.27" stroke="#444" stroke-width="0.8" />
<line x1="37.60" y1="360.27" x2="39.20" y2="360.27" stroke="#444" stroke-width="0.8" />
<line x1="37.60" y1="358.65" x2="39.20" y2="358.65" stroke="#444" stroke-width="0.8" />
<line x1="37.60" y1="357.27" x2="39.20" y2="357.27" stroke="#444" stroke-width="0.8" />
<line x1="37.60" y1="356.08" x2="39.20" y2="356.08" stroke="#444" stroke-width="0.8" />
<line x1="37.60" y1="355.03" x2="39.20" y2="355.03" stroke="#444" stroke-width="0.8" />
<line x1="37.60" y1="354.09" x2="40.60" y2="354.09" stroke="#444" stroke-width="1" />
<text x="34.40" y="358.49" font-size="10.8" text-anchor="end" fill="#222">10<tspan font-size="6.5" dy="-4.6">-5</tspan></text>
<line x1="37.60" y1="347.90" x2="39.20" y2="347.90" stroke="#444" stroke-width="0.8" />
<line x1="37.60" y1="344.28" x2="39.20" y2="344.28" stroke="#444" stroke-width="0.8" />
<line x1="37.60" y1="341.71" x2="39.20" y2="341.71" stroke="#444" stroke-width="0.8" />
<line x1="37.60" y1="339.72" x2="39.20" y2="339.72" stroke="#444" stroke-width="0.8" />
<line x1="37.60" y1="338.09" x2="39.20" y2="338.09" stroke="#444" stroke-width="0.8" />
<line x1="37.60" y1="336.71" x2="39.20" y2="336.71" stroke="#444" stroke-width="0.8" />
<line x1="37.60" y1="335.52" x2="39.20" y2="335.52" stroke="#444" stroke-width="0.8" />
<line x1="37.60" y1="334.47" x2="39.20" y2="334.47" stroke="#444" stroke-width="0.8" />
<line x1="37.60" y1="333.53" x2="40.60" y2="333.53" stroke="#444" stroke-width="1" />
<text x="34.40" y="337.93" font-size="10.8" text-anchor="end" fill="#222">10<tspan font-size="6.5" dy="-4.6">-4</tspan></text>
<line x1="37.60" y1="327.34" x2="39.20" y2="327.34" stroke="#444" stroke-width="0.8" />
<line x1="37.60" y1="323.72" x2="39.20" y2="323.72" stroke="#444" stroke-width="0.8" />
<line x1="37.60" y1="321.15" x2="39.20" y2="321.15" stroke="#444" stroke-width="0.8" />
<line x1="37.60" y1="319.16" x2="39.20" y2="319.16" stroke="#444" stroke-width="0.8" />
<line x1="37.60" y1="317.53" x2="39.20" y2="317.53" stroke="#444" stroke-width="0.8" />
<line x1="37.60" y1="316.16" x2="39.20" y2="316.16" stroke="#444" stroke-width="0.8" />
<line x1="37.60" y1="314.96" x2="39.20" y2="314.96" stroke="#444" stroke-width="0.8" />
<line x1="37.60" y1="313.91" x2="39.20" y2="313.91" stroke="#444" stroke-width="0.8" />
<line x1="37.60" y1="312.97" x2="40.60" y2="312.97" stroke="#444" stroke-width="1" />
<text x="34.40" y="317.37" font-size="10.8" text-anchor="end" fill="#222">10<tspan font-size="6.5" dy="-4.6">-3</tspan></text>
<line x1="37.60" y1="306.78" x2="39.20" y2="306.78" stroke="#444" stroke-width="0.8" />
<line x1="37.60" y1="303.16" x2="39.20" y2="303.16" stroke="#444" stroke-width="0.8" />
<line x1="37.60" y1="300.59" x2="39.20" y2="300.59" stroke="#444" stroke-width="0.8" />
<line x1="37.60" y1="298.60" x2="39.20" y2="298.60" stroke="#444" stroke-width="0.8" />
<line x1="37.60" y1="296.97" x2="39.20" y2="296.97" stroke="#444" stroke-width="0.8" />
<line x1="37.60" y1="295.60" x2="39.20" y2="295.60" stroke="#444" stroke-width="0.8" />
<line x1="37.60" y1="294.41" x2="39.20" y2="294.41" stroke="#444" stroke-width="0.8" />
<line x1="37.60" y1="293.35" x2="39.20" y2="293.35" stroke="#444" stroke-width="0.8" />
<line x1="37.60" y1="292.41" x2="40.60" y2="292.41" stroke="#444" stroke-width="1" />
<text x="34.40" y="296.81" font-size="10.8" text-anchor="end" fill="#222">10<tspan font-size="6.5" dy="-4.6">-2</tspan></text>
<line x1="37.60" y1="286.23" x2="39.20" y2="286.23" stroke="#444" stroke-width="0.8" />
<line x1="37.60" y1="282.61" x2="39.20" y2="282.61" stroke="#444" stroke-width="0.8" />
<line x1="37.60" y1="280.04" x2="39.20" y2="280.04" stroke="#444" stroke-width="0.8" />
<line x1="37.60" y1="278.05" x2="39.20" y2="278.05" stroke="#444" stroke-width="0.8" />
<line x1="37.60" y1="276.42" x2="39.20" y2="276.42" stroke="#444" stroke-width="0.8" />
<line x1="37.60" y1="275.04" x2="39.20" y2="275.04" stroke="#444" stroke-width="0.8" />
<line x1="37.60" y1="273.85" x2="39.20" y2="273.85" stroke="#444" stroke-width="0.8" />
<line x1="37.60" y1="272.80" x2="39.20" y2="272.80" stroke="#444" stroke-width="0.8" />
<line x1="37.60" y1="271.86" x2="40.60" y2="271.86" stroke="#444" stroke-width="1" />
<text x="34.40" y="276.26" font-size="10.8" text-anchor="end" fill="#222">10<tspan font-size="6.5" dy="-4.6">-1</tspan></text>
<line x1="37.60" y1="265.67" x2="39.20" y2="265.67" stroke="#444" stroke-width="0.8" />
<line x1="37.60" y1="262.05" x2="39.20" y2="262.05" stroke="#444" stroke-width="0.8" />
<line x1="37.60" y1="259.48" x2="39.20" y2="259.48" stroke="#444" stroke-width="0.8" />
<line x1="37.60" y1="257.49" x2="39.20" y2="257.49" stroke="#444" stroke-width="0.8" />
<line x1="37.60" y1="255.86" x2="39.20" y2="255.86" stroke="#444" stroke-width="0.8" />
<line x1="37.60" y1="254.48" x2="39.20" y2="254.48" stroke="#444" stroke-width="0.8" />
<line x1="37.60" y1="253.29" x2="39.20" y2="253.29" stroke="#444" stroke-width="0.8" />
<line x1="37.60" y1="252.24" x2="39.20" y2="252.24" stroke="#444" stroke-width="0.8" />
<line x1="37.60" y1="251.30" x2="40.60" y2="251.30" stroke="#444" stroke-width="1" />
<text x="34.40" y="255.70" font-size="10.8" text-anchor="end" fill="#222">10<tspan font-size="6.5" dy="-4.6">0</tspan></text>
<line x1="57.86" y1="395.20" x2="57.86" y2="392.20" stroke="#444" stroke-width="1" />
<text x="57.86" y="406.60" font-size="10.8" text-anchor="middle" fill="#222" font-weight="normal" font-style="normal" stroke="#222" stroke-width="0.1" >-1.6</text>
<line x1="98.22" y1="395.20" x2="98.22" y2="392.20" stroke="#444" stroke-width="1" />
<text x="98.22" y="406.60" font-size="10.8" text-anchor="middle" fill="#222" font-weight="normal" font-style="normal" stroke="#222" stroke-width="0.1" >-1.2</text>
<line x1="138.58" y1="395.20" x2="138.58" y2="392.20" stroke="#444" stroke-width="1" />
<text x="138.58" y="406.60" font-size="10.8" text-anchor="middle" fill="#222" font-weight="normal" font-style="normal" stroke="#222" stroke-width="0.1" >-0.8</text>
<line x1="178.94" y1="395.20" x2="178.94" y2="392.20" stroke="#444" stroke-width="1" />
<text x="178.94" y="406.60" font-size="10.8" text-anchor="middle" fill="#222" font-weight="normal" font-style="normal" stroke="#222" stroke-width="0.1" >-0.4</text>
<line x1="219.30" y1="395.20" x2="219.30" y2="392.20" stroke="#444" stroke-width="1" />
<text x="219.30" y="406.60" font-size="10.8" text-anchor="middle" fill="#222" font-weight="normal" font-style="normal" stroke="#222" stroke-width="0.1" >0.0</text>
<line x1="78.04" y1="395.20" x2="78.04" y2="393.60" stroke="#444" stroke-width="0.8" />
<line x1="118.40" y1="395.20" x2="118.40" y2="393.60" stroke="#444" stroke-width="0.8" />
<line x1="158.76" y1="395.20" x2="158.76" y2="393.60" stroke="#444" stroke-width="0.8" />
<line x1="199.12" y1="395.20" x2="199.12" y2="393.60" stroke="#444" stroke-width="0.8" />
<text x="129.30" y="424.10" font-size="16.4" text-anchor="middle" fill="#111" font-weight="normal" font-style="normal" stroke="#111" stroke-width="0.1" >Voltage(V)</text>
<text transform="translate(14.8,319.3) rotate(-90)" font-size="16.2" text-anchor="middle" fill="#111">Current(A)</text>
<line x1="47.00" y1="345.50" x2="64.80" y2="345.50" stroke="#222" stroke-width="1.4" />
<text x="68.90" y="348.90" font-size="8.6" text-anchor="start" fill="#222" font-weight="normal" font-style="normal" stroke="#222" stroke-width="0.1" >Negative-SET</text>
<circle cx="56.10" cy="356.20" r="1.9" fill="#FF2626"/>
<circle cx="55.70" cy="355.80" r="0.8" fill="#FFB0B0" opacity="0.6"/>
<text x="68.90" y="359.10" font-size="8.6" text-anchor="start" fill="#222" font-weight="normal" font-style="normal" stroke="#222" stroke-width="0.1" >Schottky emission</text>
<circle cx="56.10" cy="366.40" r="1.9" fill="#2626FF"/>
<circle cx="55.70" cy="366.00" r="0.8" fill="#B0B0FF" opacity="0.6"/>
<text x="68.90" y="368.90" font-size="8.6" text-anchor="start" fill="#222" font-weight="normal" font-style="normal" stroke="#222" stroke-width="0.1" >Ohmic conduction</text>
<line x1="287.30" y1="382.21" x2="417.98" y2="269.50" stroke="#F22020" stroke-width="1.3" />
<rect x="286.60" y="380.90" width="3.2" height="3.2" fill="#111"/>
<rect x="309.50" y="357.30" width="3.2" height="3.2" fill="#111"/>
<rect x="330.70" y="343.10" width="3.2" height="3.2" fill="#111"/>
<rect x="350.10" y="321.90" width="3.2" height="3.2" fill="#111"/>
<rect x="368.20" y="308.30" width="3.2" height="3.2" fill="#111"/>
<rect x="384.80" y="293.20" width="3.2" height="3.2" fill="#111"/>
<rect x="400.90" y="282.60" width="3.2" height="3.2" fill="#111"/>
<rect x="416.00" y="269.60" width="3.2" height="3.2" fill="#111"/>
<line x1="267.50" y1="394.20" x2="454.30" y2="394.20" stroke="#444" stroke-width="1.1" />
<line x1="267.50" y1="250.30" x2="267.50" y2="394.20" stroke="#444" stroke-width="1.1" />
<line x1="267.50" y1="250.30" x2="454.30" y2="250.30" stroke="#666" stroke-width="1.0" />
<line x1="454.30" y1="250.30" x2="454.30" y2="394.20" stroke="#666" stroke-width="1.25" />
<line x1="267.50" y1="250.30" x2="270.50" y2="250.30" stroke="#444" stroke-width="1" />
<text x="264.20" y="254.10" font-size="11.0" text-anchor="end" fill="#222" font-weight="normal" font-style="normal" stroke="#222" stroke-width="0.1" >-6.0</text>
<line x1="267.50" y1="282.30" x2="270.50" y2="282.30" stroke="#444" stroke-width="1" />
<text x="264.20" y="286.10" font-size="11.0" text-anchor="end" fill="#222" font-weight="normal" font-style="normal" stroke="#222" stroke-width="0.1" >-6.5</text>
<line x1="267.50" y1="314.30" x2="270.50" y2="314.30" stroke="#444" stroke-width="1" />
<text x="264.20" y="318.10" font-size="11.0" text-anchor="end" fill="#222" font-weight="normal" font-style="normal" stroke="#222" stroke-width="0.1" >-7.0</text>
<line x1="267.50" y1="346.30" x2="270.50" y2="346.30" stroke="#444" stroke-width="1" />
<text x="264.20" y="350.10" font-size="11.0" text-anchor="end" fill="#222" font-weight="normal" font-style="normal" stroke="#222" stroke-width="0.1" >-7.5</text>
<line x1="267.50" y1="378.30" x2="270.50" y2="378.30" stroke="#444" stroke-width="1" />
<text x="264.20" y="382.10" font-size="11.0" text-anchor="end" fill="#222" font-weight="normal" font-style="normal" stroke="#222" stroke-width="0.1" >-8.0</text>
<line x1="267.50" y1="266.30" x2="269.10" y2="266.30" stroke="#444" stroke-width="0.8" />
<line x1="267.50" y1="298.30" x2="269.10" y2="298.30" stroke="#444" stroke-width="0.8" />
<line x1="267.50" y1="330.30" x2="269.10" y2="330.30" stroke="#444" stroke-width="0.8" />
<line x1="267.50" y1="362.30" x2="269.10" y2="362.30" stroke="#444" stroke-width="0.8" />
<line x1="267.50" y1="394.20" x2="267.50" y2="391.20" stroke="#444" stroke-width="1" />
<text x="267.50" y="406.20" font-size="10.6" text-anchor="middle" fill="#222" font-weight="normal" font-style="normal" stroke="#222" stroke-width="0.1" >0.4</text>
<line x1="311.50" y1="394.20" x2="311.50" y2="391.20" stroke="#444" stroke-width="1" />
<text x="311.50" y="406.20" font-size="10.6" text-anchor="middle" fill="#222" font-weight="normal" font-style="normal" stroke="#222" stroke-width="0.1" >0.5</text>
<line x1="355.50" y1="394.20" x2="355.50" y2="391.20" stroke="#444" stroke-width="1" />
<text x="355.50" y="406.20" font-size="10.6" text-anchor="middle" fill="#222" font-weight="normal" font-style="normal" stroke="#222" stroke-width="0.1" >0.6</text>
<line x1="399.50" y1="394.20" x2="399.50" y2="391.20" stroke="#444" stroke-width="1" />
<text x="399.50" y="406.20" font-size="10.6" text-anchor="middle" fill="#222" font-weight="normal" font-style="normal" stroke="#222" stroke-width="0.1" >0.7</text>
<line x1="443.50" y1="394.20" x2="443.50" y2="391.20" stroke="#444" stroke-width="1" />
<text x="443.50" y="406.20" font-size="10.6" text-anchor="middle" fill="#222" font-weight="normal" font-style="normal" stroke="#222" stroke-width="0.1" >0.8</text>
<line x1="289.50" y1="394.20" x2="289.50" y2="392.60" stroke="#444" stroke-width="0.8" />
<line x1="333.50" y1="394.20" x2="333.50" y2="392.60" stroke="#444" stroke-width="0.8" />
<line x1="377.50" y1="394.20" x2="377.50" y2="392.60" stroke="#444" stroke-width="0.8" />
<line x1="421.50" y1="394.20" x2="421.50" y2="392.60" stroke="#444" stroke-width="0.8" />
<text x="275.50" y="265.30" font-size="11.5" text-anchor="start" fill="#111" font-weight="normal" font-style="normal" stroke="#111" stroke-width="0.1" >Schottky emission</text>
<text x="279.60" y="280.70" font-size="11.5" text-anchor="start" fill="#111" font-weight="normal" font-style="normal" stroke="#111" stroke-width="0.1" >Intercept:-10.7</text>
<rect x="389.4" y="351.2" width="3.2" height="3.2" fill="#111"/>
<text x="404.40" y="356.00" font-size="8.9" text-anchor="start" fill="#222" font-weight="normal" font-style="normal" stroke="#222" stroke-width="0.1" >Data</text>
<line x1="381.80" y1="363.40" x2="400.10" y2="363.40" stroke="#F22020" stroke-width="1.3" />
<text x="404.40" y="366.60" font-size="8.9" text-anchor="start" fill="#222" font-weight="normal" font-style="normal" stroke="#222" stroke-width="0.1" >Fitting line</text>
<text transform="translate(242.0,323.4) rotate(-90)" font-size="15.5" text-anchor="middle" fill="#111">Ln(I)</text>
<text x="342.7" y="423" font-size="18.5" fill="#111">|V|<tspan font-size="8.8" dy="-6">1/2</tspan></text>
<line x1="518.70" y1="357.40" x2="666.40" y2="283.90" stroke="#F22020" stroke-width="1.3" />
<rect x="517.10" y="355.80" width="3.2" height="3.2" fill="#111"/>
<rect x="536.90" y="342.90" width="3.2" height="3.2" fill="#111"/>
<rect x="555.60" y="337.20" width="3.2" height="3.2" fill="#111"/>
<rect x="572.90" y="327.50" width="3.2" height="3.2" fill="#111"/>
<rect x="590.30" y="317.50" width="3.2" height="3.2" fill="#111"/>
<rect x="606.40" y="308.90" width="3.2" height="3.2" fill="#111"/>
<rect x="621.80" y="300.70" width="3.2" height="3.2" fill="#111"/>
<rect x="636.70" y="294.50" width="3.2" height="3.2" fill="#111"/>
<rect x="651.10" y="289.50" width="3.2" height="3.2" fill="#111"/>
<rect x="664.80" y="282.80" width="3.2" height="3.2" fill="#111"/>
<line x1="497.80" y1="395.30" x2="683.60" y2="395.30" stroke="#444" stroke-width="1.1" />
<line x1="497.80" y1="246.80" x2="497.80" y2="395.30" stroke="#444" stroke-width="1.1" />
<line x1="497.80" y1="246.80" x2="683.60" y2="246.80" stroke="#777" stroke-width="1.0" />
<line x1="683.60" y1="246.80" x2="683.60" y2="395.30" stroke="#777" stroke-width="1.25" />
<line x1="497.80" y1="260.30" x2="500.80" y2="260.30" stroke="#444" stroke-width="1" />
<text x="496.00" y="264.30" font-size="11.0" text-anchor="end" fill="#222" font-weight="normal" font-style="normal" stroke="#222" stroke-width="0.1" >-3.0</text>
<line x1="497.80" y1="287.30" x2="500.80" y2="287.30" stroke="#444" stroke-width="1" />
<text x="496.00" y="291.30" font-size="11.0" text-anchor="end" fill="#222" font-weight="normal" font-style="normal" stroke="#222" stroke-width="0.1" >-3.5</text>
<line x1="497.80" y1="314.30" x2="500.80" y2="314.30" stroke="#444" stroke-width="1" />
<text x="496.00" y="318.30" font-size="11.0" text-anchor="end" fill="#222" font-weight="normal" font-style="normal" stroke="#222" stroke-width="0.1" >-4.0</text>
<line x1="497.80" y1="341.30" x2="500.80" y2="341.30" stroke="#444" stroke-width="1" />
<text x="496.00" y="345.30" font-size="11.0" text-anchor="end" fill="#222" font-weight="normal" font-style="normal" stroke="#222" stroke-width="0.1" >-4.5</text>
<line x1="497.80" y1="368.30" x2="500.80" y2="368.30" stroke="#444" stroke-width="1" />
<text x="496.00" y="372.30" font-size="11.0" text-anchor="end" fill="#222" font-weight="normal" font-style="normal" stroke="#222" stroke-width="0.1" >-5.0</text>
<line x1="497.80" y1="395.30" x2="500.80" y2="395.30" stroke="#444" stroke-width="1" />
<text x="496.00" y="399.30" font-size="11.0" text-anchor="end" fill="#222" font-weight="normal" font-style="normal" stroke="#222" stroke-width="0.1" >-5.5</text>
<line x1="497.80" y1="246.80" x2="499.40" y2="246.80" stroke="#444" stroke-width="0.8" />
<line x1="497.80" y1="273.80" x2="499.40" y2="273.80" stroke="#444" stroke-width="0.8" />
<line x1="497.80" y1="300.80" x2="499.40" y2="300.80" stroke="#444" stroke-width="0.8" />
<line x1="497.80" y1="327.80" x2="499.40" y2="327.80" stroke="#444" stroke-width="0.8" />
<line x1="497.80" y1="354.80" x2="499.40" y2="354.80" stroke="#444" stroke-width="0.8" />
<line x1="497.80" y1="381.80" x2="499.40" y2="381.80" stroke="#444" stroke-width="0.8" />
<line x1="522.25" y1="395.30" x2="522.25" y2="392.30" stroke="#444" stroke-width="1" />
<text x="522.25" y="406.60" font-size="10.6" text-anchor="middle" fill="#222" font-weight="normal" font-style="normal" stroke="#222" stroke-width="0.1" >0.6</text>
<line x1="571.15" y1="395.30" x2="571.15" y2="392.30" stroke="#444" stroke-width="1" />
<text x="571.15" y="406.60" font-size="10.6" text-anchor="middle" fill="#222" font-weight="normal" font-style="normal" stroke="#222" stroke-width="0.1" >0.7</text>
<line x1="620.05" y1="395.30" x2="620.05" y2="392.30" stroke="#444" stroke-width="1" />
<text x="620.05" y="406.60" font-size="10.6" text-anchor="middle" fill="#222" font-weight="normal" font-style="normal" stroke="#222" stroke-width="0.1" >0.8</text>
<line x1="668.95" y1="395.30" x2="668.95" y2="392.30" stroke="#444" stroke-width="1" />
<text x="668.95" y="406.60" font-size="10.6" text-anchor="middle" fill="#222" font-weight="normal" font-style="normal" stroke="#222" stroke-width="0.1" >0.9</text>
<line x1="497.80" y1="395.30" x2="497.80" y2="393.70" stroke="#444" stroke-width="0.8" />
<line x1="546.70" y1="395.30" x2="546.70" y2="393.70" stroke="#444" stroke-width="0.8" />
<line x1="595.60" y1="395.30" x2="595.60" y2="393.70" stroke="#444" stroke-width="0.8" />
<line x1="644.50" y1="395.30" x2="644.50" y2="393.70" stroke="#444" stroke-width="0.8" />
<text x="506.00" y="262.80" font-size="11.5" text-anchor="start" fill="#111" font-weight="normal" font-style="normal" stroke="#111" stroke-width="0.1" >Schottky emission</text>
<text x="513.40" y="279.40" font-size="11.8" text-anchor="start" fill="#111" font-weight="normal" font-style="normal" stroke="#111" stroke-width="0.1" >Intercept:-7.4</text>
<rect x="625" y="354.2" width="3.2" height="3.2" fill="#111"/>
<text x="640.60" y="358.90" font-size="8.9" text-anchor="start" fill="#222" font-weight="normal" font-style="normal" stroke="#222" stroke-width="0.1" >Data</text>
<line x1="617.30" y1="367.10" x2="636.00" y2="367.10" stroke="#F22020" stroke-width="1.3" />
<text x="640.60" y="370.00" font-size="8.9" text-anchor="start" fill="#222" font-weight="normal" font-style="normal" stroke="#222" stroke-width="0.1" >Fitting line</text>
<text transform="translate(472.3,319.3) rotate(-90)" font-size="16.4" text-anchor="middle" fill="#111">Ln(I)</text>
<text x="579.6" y="425.2" font-size="19.6" fill="#111">|V|<tspan font-size="10" dy="-6.6">1/2</tspan></text>
</svg>
</body></html>
